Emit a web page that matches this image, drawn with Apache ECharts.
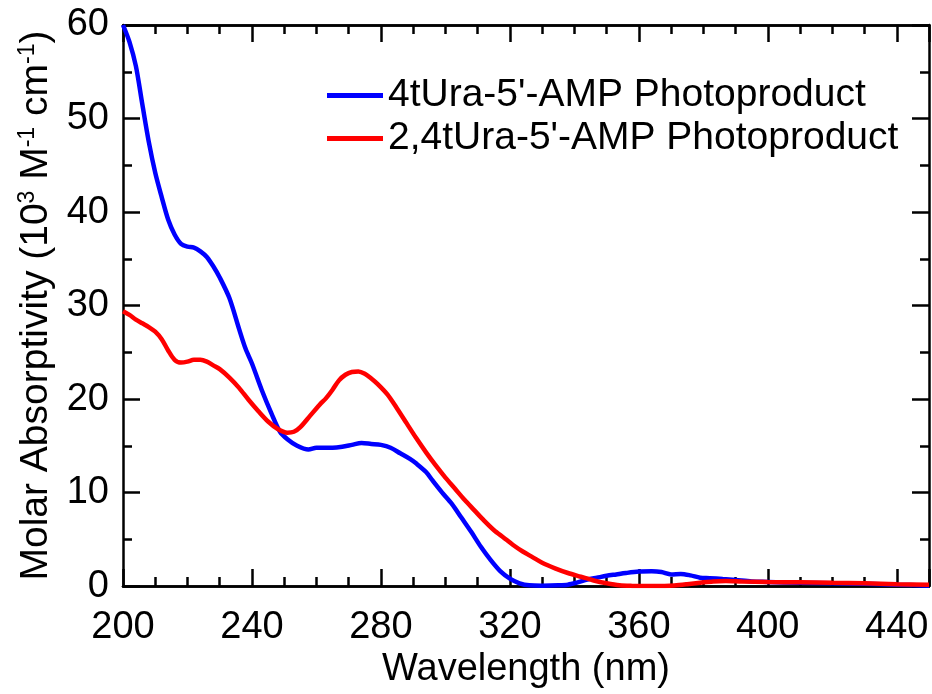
<!DOCTYPE html>
<html>
<head>
<meta charset="utf-8">
<script src="https://cdn.jsdelivr.net/npm/echarts@6/dist/echarts.min.js"></script>
<style>
  html, body { margin: 0; padding: 0; background: #fff; }
  #chart { width: 932px; height: 694px; }
</style>
</head>
<body>
<div id="chart"></div>
<script>
// 4tUra-5'-AMP Photoproduct (blue)
const blueWavelength = [200, 202, 204, 206, 208, 210, 212, 214, 216, 218, 220, 222, 224, 226, 228, 230, 233, 236, 238, 240,
  243, 246, 248.7, 251, 254, 257.5, 260, 262, 265, 268, 271, 274, 277, 280, 283, 286, 289, 291, 294, 296,
  299, 302, 305, 308, 311, 314, 317, 320, 323, 326, 330, 335, 338, 341, 344, 347, 350, 353, 356, 360,
  364, 367, 370, 373, 376, 379, 382, 386, 390, 395, 400, 410, 420, 430, 440, 450]
const blueValues = [60, 58.2, 55.6, 51.5, 47.5, 44.2, 41.6, 39.2, 37.6, 36.6, 36.3, 36.2, 35.8, 35.2, 34.2, 33.0, 30.8, 27.5, 25.4, 23.8,
  21.0, 18.5, 16.5, 15.7, 15.0, 14.6, 14.8, 14.8, 14.8, 14.9, 15.1, 15.3, 15.2, 15.1, 14.8, 14.2, 13.6, 13.1, 12.2, 11.3,
  10.0, 8.8, 7.3, 5.8, 4.2, 2.8, 1.6, 0.8, 0.3, 0.08, 0.05, 0.08, 0.15, 0.4, 0.7, 0.9, 1.1, 1.25, 1.4, 1.55,
  1.58, 1.5, 1.25, 1.3, 1.15, 0.9, 0.85, 0.75, 0.65, 0.5, 0.45, 0.35, 0.3, 0.25, 0.15, 0.05]

// 2,4tUra-5'-AMP Photoproduct (red)
const redWavelength = [200, 202, 204, 206, 208, 210, 212, 214, 216, 218, 220, 222, 224, 226, 228, 230, 233, 236, 239, 242,
  245, 248, 251, 253, 255, 258, 261, 263, 265, 267, 269, 271, 273, 275, 277, 279, 282, 285, 288, 291,
  294, 297, 300, 303, 306, 309, 312, 315, 318, 321, 324, 327, 330, 334, 338, 342, 346, 350, 354, 358,
  363, 368, 371, 375, 379, 383, 387, 392, 400, 410, 420, 430, 440, 450]
const redValues = [29.4, 29.0, 28.5, 28.1, 27.7, 27.2, 26.4, 25.2, 24.2, 23.9, 24.0, 24.2, 24.2, 24.0, 23.6, 23.2, 22.3, 21.2, 19.9, 18.7,
  17.6, 16.8, 16.4, 16.5, 17.0, 18.2, 19.4, 20.1, 21.0, 22.0, 22.6, 22.9, 22.95, 22.7, 22.2, 21.6, 20.5, 19.0, 17.4, 15.8,
  14.3, 12.9, 11.6, 10.4, 9.2, 8.1, 7.0, 6.0, 5.2, 4.4, 3.7, 3.1, 2.5, 1.9, 1.4, 1.0, 0.6, 0.3, 0.08, 0.02,
  0.0, 0.02, 0.07, 0.2, 0.35, 0.5, 0.55, 0.5, 0.45, 0.4, 0.35, 0.3, 0.2, 0.15]

const seriesNames = ["4tUra-5'-AMP Photoproduct", "2,4tUra-5'-AMP Photoproduct"]
const xRange = [200, 450]
const yRange = [0, 60]

const FONT = "'Liberation Sans', Arial, sans-serif"
const lineStyle = { color: '#000', width: 2.5 }

const zip = (xs, ys) => xs.map((x, i) => [x, ys[i]])

// 主刻度轴 + 次刻度轴（上下各一组）
const xAxisBase = (pos, interval, tickLen, showLabel) => ({
  type: 'value',
  position: pos,
  min: xRange[0],
  max: xRange[1],
  interval: interval,
  axisLine: { show: true, onZero: false, lineStyle: lineStyle },
  axisTick: { show: true, inside: true, length: tickLen, lineStyle: { color: '#000', width: 2.5 } },
  axisLabel: {
    show: showLabel,
    fontSize: 38,
    fontFamily: FONT,
    color: '#000',
    margin: 22,
    formatter: v => (v % 40 === 0 ? String(v) : '')
  },
  splitLine: { show: false }
})

const yAxisBase = (pos, showLabel) => ({
  type: 'value',
  position: pos,
  min: yRange[0],
  max: yRange[1],
  interval: 10,
  axisLine: { show: true, onZero: false, lineStyle: lineStyle },
  axisTick: { show: true, inside: true, length: 17, lineStyle: { color: '#000', width: 2.5 } },
  minorTick: { show: true, splitNumber: 2, length: 9, lineStyle: { color: '#000', width: 2.5 } },
  axisLabel: { show: showLabel, fontSize: 38, fontFamily: FONT, color: '#000', margin: 14 },
  splitLine: { show: false },
  minorSplitLine: { show: false }
})

const chart = echarts.init(document.getElementById('chart'))

const xMain = xAxisBase('bottom', 40, 17, true)
xMain.name = 'Wavelength (nm)'
xMain.nameLocation = 'middle'
xMain.nameGap = 64
xMain.nameTextStyle = { fontSize: 38, fontFamily: FONT, color: '#000' }

const yMain = yAxisBase('left', true)
yMain.name = 'Molar Absorptivity (10{sup|3} M{sup|-1} cm{sup|-1})'
yMain.nameLocation = 'middle'
yMain.nameGap = 62
yMain.nameTextStyle = {
  fontSize: 39,
  fontFamily: FONT,
  color: '#000',
  rich: {
    sup: { fontSize: 23, fontFamily: FONT, color: '#000', verticalAlign: 'top', lineHeight: 40 }
  }
}

const option = {
  animation: false,
  backgroundColor: '#fff',
  grid: { left: 123, right: 3, top: 25, bottom: 106, containLabel: false },
  legend: {
    orient: 'vertical',
    left: 322,
    top: 71,
    itemWidth: 56,
    itemHeight: 5,
    itemGap: 4,
    icon: 'rect',
    textStyle: { fontSize: 39, fontFamily: FONT, color: '#000', padding: [0, 0, 0, 0] },
    data: seriesNames
  },
  xAxis: [
    xMain,
    xAxisBase('bottom', 10, 9, false),
    xAxisBase('top', 40, 17, false),
    xAxisBase('top', 10, 9, false)
  ],
  yAxis: [yMain, yAxisBase('right', false)],
  series: [
    {
      name: seriesNames[0],
      type: 'line',
      xAxisIndex: 0,
      yAxisIndex: 0,
      data: zip(blueWavelength, blueValues),
      smooth: 0.3,
      showSymbol: false,
      lineStyle: { color: '#0000ff', width: 4.5 },
      itemStyle: { color: '#0000ff' },
      clip: true
    },
    {
      name: seriesNames[1],
      type: 'line',
      xAxisIndex: 0,
      yAxisIndex: 0,
      data: zip(redWavelength, redValues),
      smooth: 0.3,
      showSymbol: false,
      lineStyle: { color: '#ff0000', width: 4.5 },
      itemStyle: { color: '#ff0000' },
      clip: true
    }
  ]
}

chart.setOption(option)
</script>
</body>
</html>
